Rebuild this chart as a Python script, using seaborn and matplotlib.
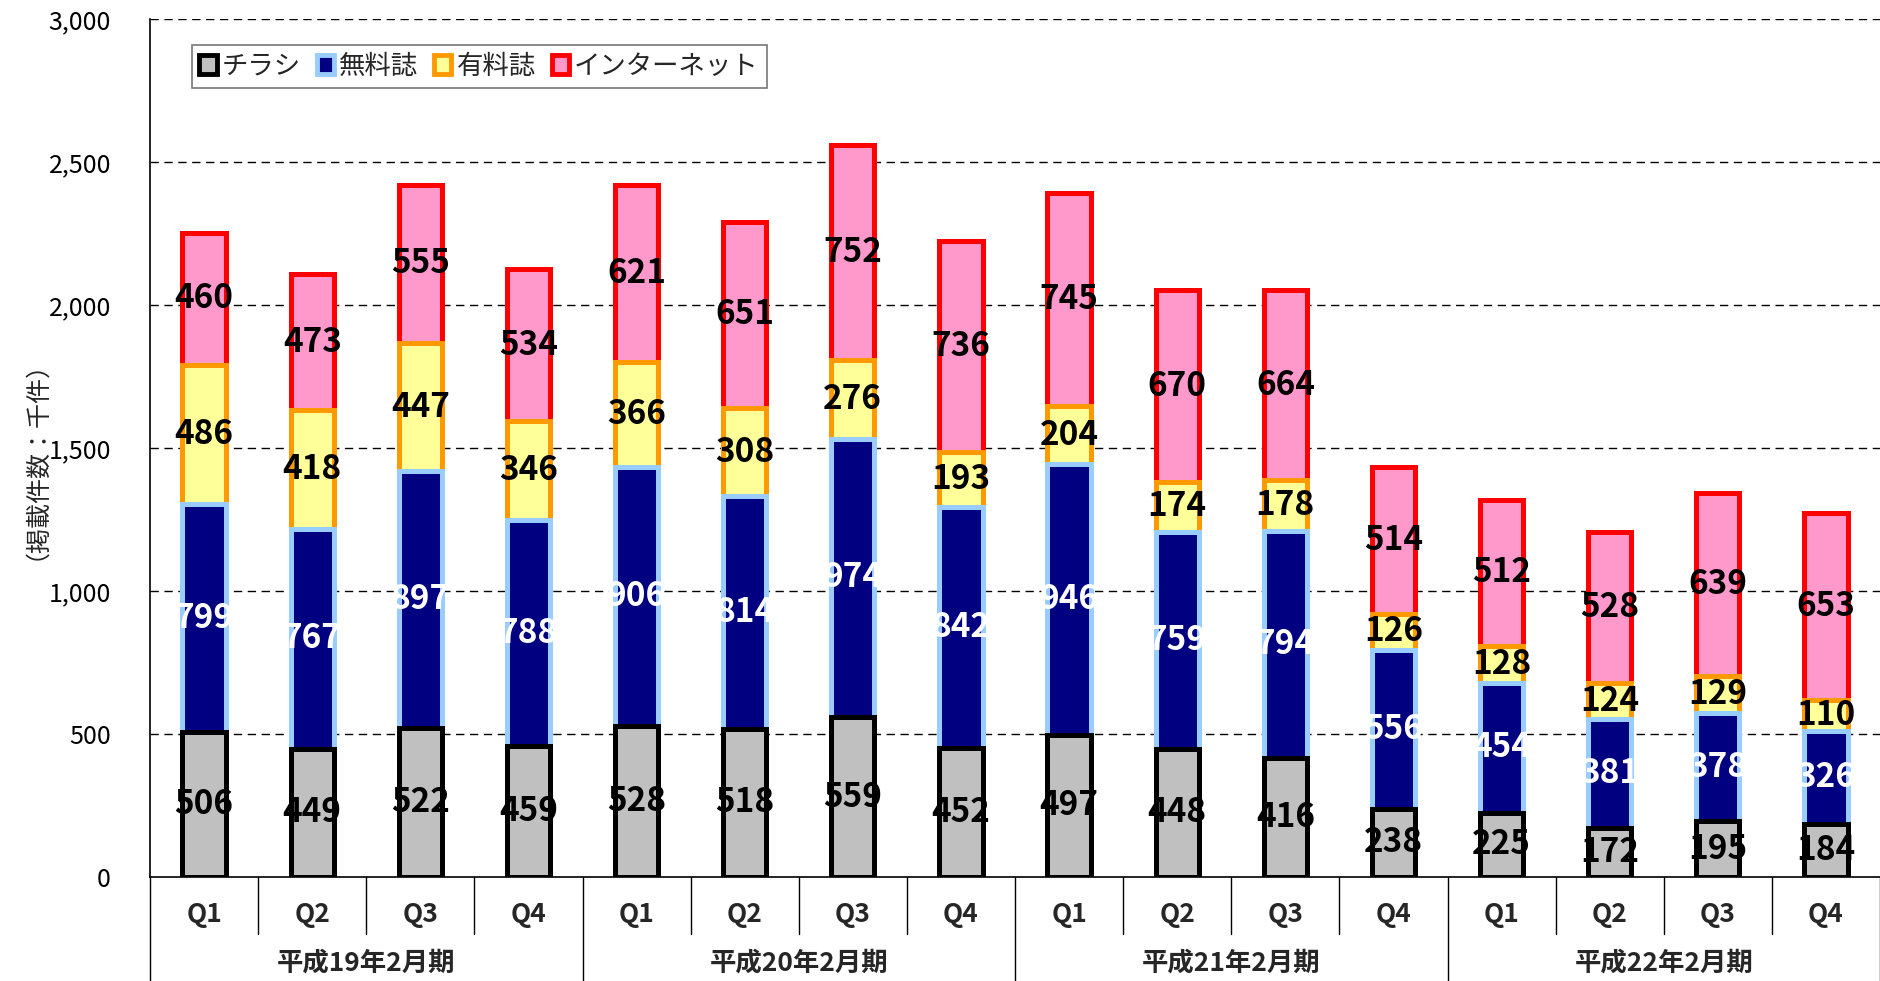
import numpy as np
import pandas as pd
import matplotlib
matplotlib.use("Agg")
import matplotlib.pyplot as plt
import matplotlib.transforms as mtrans
from matplotlib.patches import Patch
import seaborn as sns

quarters = ["Q1", "Q2", "Q3", "Q4"] * 4
periods = ["平成19年2月期", "平成20年2月期", "平成21年2月期", "平成22年2月期"]
series_names = ["チラシ", "無料誌", "有料誌", "インターネット"]

chirashi = [506, 449, 522, 459, 528, 518, 559, 452, 497, 448, 416, 238, 225, 172, 195, 184]
muryo = [799, 767, 897, 788, 906, 814, 974, 842, 946, 759, 794, 556, 454, 381, 378, 326]
yuryo = [486, 418, 447, 346, 366, 308, 276, 193, 204, 174, 178, 126, 128, 124, 129, 110]
internet = [460, 473, 555, 534, 621, 651, 752, 736, 745, 670, 664, 514, 512, 528, 639, 653]

yticks = [0, 500, 1000, 1500, 2000, 2500, 3000]

fills = ["#C0C0C0", "#000080", "#FFFF99", "#FF99CC"]
edges = ["#000000", "#99CCFF", "#FF9900", "#FF0000"]
label_colors = ["black", "white", "black", "black"]

sns.set_theme(style="white")
plt.rcParams["font.family"] = ["Noto Sans CJK JP", "DejaVu Sans"]

fig = plt.figure(figsize=(18.8, 9.81), dpi=100)
ax = fig.add_axes([150 / 1880, 104 / 981, 1730 / 1880, 858 / 981])

series = [chirashi, muryo, yuryo, internet]
cum = np.cumsum(np.array(series), axis=0)
x_idx = np.arange(len(quarters))

# draw cumulative bars from tallest to shortest so the stack appears
for k in range(3, -1, -1):
    df = pd.DataFrame({"x": x_idx, "y": cum[k]})
    sns.barplot(data=df, x="x", y="y", ax=ax, color=fills[k], edgecolor=edges[k],
                linewidth=3.6, width=0.40, saturation=1, errorbar=None, zorder=3)

# value labels
for k in range(4):
    bottoms = cum[k] - np.array(series[k])
    for i in range(len(quarters)):
        mid = bottoms[i] + series[k][i] / 2
        ax.text(i, mid, f"{series[k][i]}", ha="center", va="center",
                fontsize=24, fontweight="bold", color=label_colors[k], zorder=5)

ax.set_xlim(-0.5, len(quarters) - 0.5)
ax.set_ylim(0, 3000)
ax.set_yticks(yticks)
ax.set_yticklabels([f"{v:,}" for v in yticks], fontsize=18)
ax.tick_params(axis="y", direction="in", length=8, width=1, pad=28, colors="black")
ax.set_xticks([])
ax.set_xlabel("")
ax.set_ylabel("（掲載件数：千件）", fontsize=18)
ax.yaxis.set_label_coords(-0.066, 0.5)

ax.grid(False)
for v in yticks[1:]:
    ax.axhline(v, color="black", linestyle=(0, (6, 4)), linewidth=1, zorder=1)

for s in ["top", "right"]:
    ax.spines[s].set_visible(False)
ax.spines["left"].set_color("black")
ax.spines["bottom"].set_color("black")
ax.spines["left"].set_linewidth(1.2)
ax.spines["bottom"].set_linewidth(1.2)

trans = mtrans.blended_transform_factory(ax.transData, ax.transAxes)
# quarter separators
for i in range(len(quarters) + 1):
    xs = i - 0.5
    y_end = -0.121 if i % 4 == 0 else -0.066
    ax.plot([xs, xs], [0, y_end], color="black", linewidth=1, transform=trans, clip_on=False)
for i, q in enumerate(quarters):
    ax.text(i, -0.044, q, ha="center", va="center", fontsize=19, fontweight="bold",
            transform=trans, clip_on=False)
for g, p in enumerate(periods):
    ax.text(g * 4 + 1.5, -0.100, p, ha="center", va="center", fontsize=19, fontweight="bold",
            transform=trans, clip_on=False)

handles = [Patch(facecolor=fills[k], edgecolor=edges[k], linewidth=3.5, label=series_names[k])
           for k in range(4)]
leg = ax.legend(handles=handles, loc="upper left", bbox_to_anchor=(0.024, 0.970), ncol=4,
                fontsize=19, frameon=True, fancybox=False, handlelength=0.65, handleheight=0.75,
                handletextpad=0.2, columnspacing=0.6, borderpad=0.3, borderaxespad=0)
leg.get_frame().set_edgecolor("#555555")
leg.get_frame().set_linewidth(1.2)
leg.set_zorder(10)

fig.savefig("out.png", dpi=100)
